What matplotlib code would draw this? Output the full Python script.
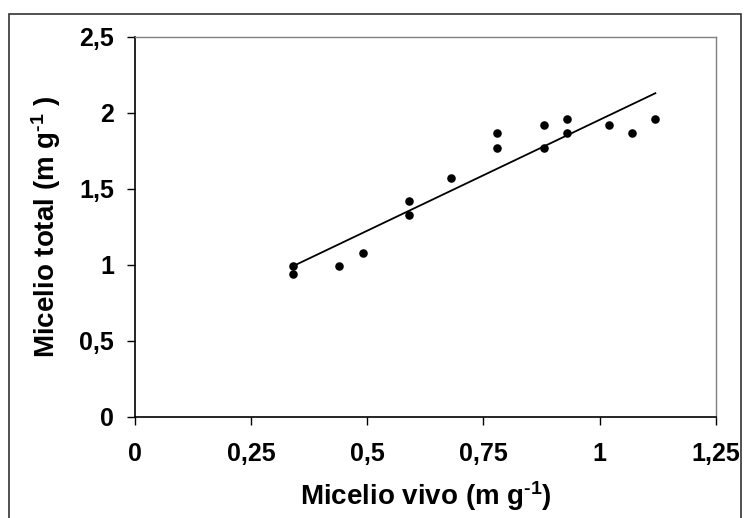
import matplotlib
matplotlib.use("Agg")
import matplotlib.pyplot as plt
import numpy as np
from matplotlib.patches import Rectangle
from matplotlib.ticker import FixedLocator, FuncFormatter

# live vs total mycelium
micelio_vivo = [0.34, 0.34, 0.44, 0.49, 0.59, 0.59, 0.68, 0.78,
                0.78, 0.88, 0.88, 0.93, 0.93, 1.02, 1.07, 1.12]
micelio_total = [0.99, 0.94, 0.99, 1.08, 1.42, 1.33, 1.57, 1.87,
                 1.77, 1.92, 1.77, 1.96, 1.87, 1.92, 1.87, 1.96]
x_ticks = [0, 0.25, 0.5, 0.75, 1, 1.25]
y_ticks = [0, 0.5, 1, 1.5, 2, 2.5]

plt.rcParams['font.family'] = ['Liberation Sans', 'DejaVu Sans']
plt.rcParams['font.weight'] = 'bold'
plt.rcParams['mathtext.fontset'] = 'custom'
plt.rcParams['mathtext.rm'] = 'Liberation Sans:bold'
plt.rcParams['mathtext.default'] = 'rm'

fig = plt.figure(figsize=(7.44, 5.18), dpi=100)
ax = fig.add_axes([0.1815, 0.1956, 0.7805, 0.733])

# outer chart border (cut off at the bottom in the original)
fig.patches.append(Rectangle((9 / 744, -0.05), 732 / 744, 1.05 - 14 / 518,
                             transform=fig.transFigure, fill=False,
                             edgecolor='#333333', linewidth=1.2, zorder=0))

x = np.array(micelio_vivo)
y = np.array(micelio_total)
ax.scatter(x, y, s=38, color='black', zorder=3, linewidths=0)

slope, intercept = np.polyfit(x, y, 1)
xl = np.array([x.min(), x.max()])
ax.plot(xl, slope * xl + intercept, color='black', linewidth=1.3)

ax.set_xlim(0, 1.25)
ax.set_ylim(0, 2.5)
ax.xaxis.set_major_locator(FixedLocator(x_ticks))
ax.yaxis.set_major_locator(FixedLocator(y_ticks))
fmt = FuncFormatter(lambda v, p: ('%g' % v).replace('.', ','))
ax.xaxis.set_major_formatter(fmt)
ax.yaxis.set_major_formatter(fmt)

for side in ['top', 'right']:
    ax.spines[side].set_color('#808080')
    ax.spines[side].set_linewidth(1.0)
for side in ['left', 'bottom']:
    ax.spines[side].set_color('black')
    ax.spines[side].set_linewidth(1.2)

ax.tick_params(axis='x', direction='out', length=6, width=1, pad=12, labelsize=18)
ax.tick_params(axis='y', direction='out', length=6, width=1, pad=9, labelsize=18)

ax.set_xlabel(r'Micelio vivo (m g$^{\text{-}1}$)', fontsize=20, fontweight='bold', labelpad=10)
ax.set_ylabel(r'Micelio total (m g$^{\text{-}1}$ )', fontsize=20, fontweight='bold', labelpad=12)

fig.savefig('out.png', dpi=100)
